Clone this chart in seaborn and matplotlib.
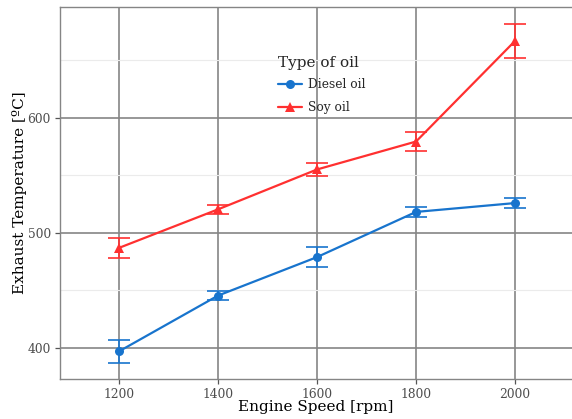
import numpy as np
import pandas as pd
import matplotlib
matplotlib.use("Agg")
import matplotlib.pyplot as plt
import seaborn as sns

# Engine speed steps and measured exhaust temperatures (mean ± error)
speeds = [1200, 1400, 1600, 1800, 2000]
diesel_temp = [397, 445.5, 479, 518.3, 526]
diesel_err = [10, 4, 8.5, 4.3, 4]
soy_temp = [487, 520.5, 555.2, 579.5, 667]
soy_err = [9, 4, 5.5, 8, 14.6]
oil_types = ["Diesel oil", "Soy oil"]
palette = {"Diesel oil": "#1874CD", "Soy oil": "#FF3030"}

df = pd.DataFrame({
    "speed": speeds * 2,
    "temp": diesel_temp + soy_temp,
    "err": diesel_err + soy_err,
    "oil": [oil_types[0]] * len(speeds) + [oil_types[1]] * len(speeds),
})

sns.set_theme(style="white")
plt.rcParams["font.family"] = ["DejaVu Serif"]

fig = plt.figure(figsize=(5.72, 4.19), dpi=100)
ax = fig.add_axes([60 / 572, 40 / 419, 1.0 - 60 / 572, 372 / 419])

# error bars first, so lines and markers sit on top
for oil in oil_types:
    sub = df[df["oil"] == oil]
    ax.errorbar(sub["speed"], sub["temp"], yerr=sub["err"], fmt="none",
                ecolor=palette[oil], elinewidth=1.2, capsize=8, capthick=1.2,
                zorder=3)

sns.lineplot(data=df, x="speed", y="temp", hue="oil", style="oil",
             hue_order=oil_types, style_order=oil_types, palette=palette,
             markers={"Diesel oil": "o", "Soy oil": "^"}, dashes=False,
             markersize=6.5, markeredgewidth=0, linewidth=1.6, ax=ax,
             zorder=4)

ax.set_xlim(1081, 2115)
ax.set_ylim(373, 696.5)
ax.set_xticks(speeds)
ax.set_yticks([400, 500, 600])
ax.set_yticks([450, 550, 650], minor=True)

ax.grid(True, which="major", color="#858585", linewidth=1.2, zorder=0)
ax.grid(True, which="minor", axis="y", color="#ebebeb", linewidth=0.8, zorder=0)
ax.set_axisbelow(True)

for side in ["left", "bottom", "top"]:
    ax.spines[side].set_color("#858585")
    ax.spines[side].set_linewidth(1.0)
ax.spines["right"].set_visible(False)

ax.tick_params(axis="both", which="major", direction="out", length=3.5,
               width=0.9, color="#555555", labelsize=8.8, labelcolor="#4d4d4d",
               left=True, bottom=True, pad=3)
ax.tick_params(axis="y", which="minor", length=0)

ax.set_xlabel("Engine Speed [rpm]", fontsize=11, color="black", labelpad=-1)
ax.set_ylabel("Exhaust Temperature [ºC]", fontsize=11, color="black", labelpad=0.5)

leg = ax.legend(title="Type of oil", frameon=False, fontsize=8.8,
                title_fontsize=11, loc="upper left",
                bbox_to_anchor=(273 / 572, 1 - 51 / 419),
                bbox_transform=fig.transFigure, handlelength=2.0,
                handletextpad=0.45, labelspacing=0.8, borderaxespad=0)
leg._legend_box.align = "left"
leg._legend_box.sep = 6

fig.savefig("out.png", dpi=100)
